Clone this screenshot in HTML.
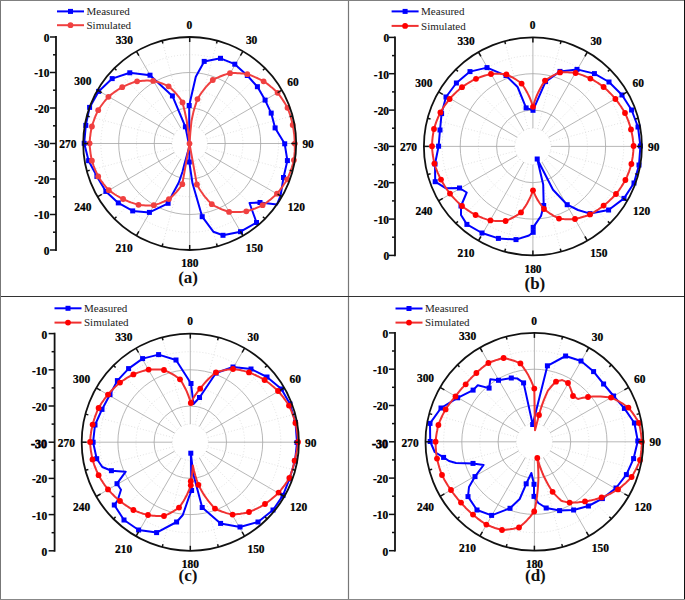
<!DOCTYPE html><html><head><meta charset="utf-8"><style>html,body{margin:0;padding:0;background:#fff;}svg{display:block;}.n{font-family:"Liberation Serif",serif;font-weight:bold;font-size:12px;fill:#000;stroke:#000;stroke-width:0.25px;}.lg{font-family:"Liberation Serif",serif;font-size:11px;fill:#222;}.pl{font-family:"Liberation Serif",serif;font-weight:bold;font-size:17px;fill:#111;}</style></head><body>
<svg width="685" height="600" viewBox="0 0 685 600">
<rect width="685" height="600" fill="#fff"/>
<g><circle cx="189.7" cy="143.5" r="17.8" fill="none" stroke="#dadada" stroke-width="0.8" stroke-dasharray="1 2"/><circle cx="189.7" cy="143.5" r="53.2" fill="none" stroke="#dadada" stroke-width="0.8" stroke-dasharray="1 2"/><circle cx="189.7" cy="143.5" r="88.8" fill="none" stroke="#dadada" stroke-width="0.8" stroke-dasharray="1 2"/><circle cx="189.7" cy="143.5" r="35.5" fill="none" stroke="#a4a4a4" stroke-width="0.8"/><circle cx="189.7" cy="143.5" r="71" fill="none" stroke="#a4a4a4" stroke-width="0.8"/><line x1="189.7" y1="125.8" x2="189.7" y2="37" stroke="#a4a4a4" stroke-width="0.8"/><line x1="194.3" y1="126.4" x2="217.3" y2="40.6" stroke="#dadada" stroke-width="0.8" stroke-dasharray="1 2"/><line x1="198.6" y1="128.1" x2="242.9" y2="51.3" stroke="#a4a4a4" stroke-width="0.8"/><line x1="202.3" y1="130.9" x2="265" y2="68.2" stroke="#dadada" stroke-width="0.8" stroke-dasharray="1 2"/><line x1="205.1" y1="134.6" x2="281.9" y2="90.2" stroke="#a4a4a4" stroke-width="0.8"/><line x1="206.8" y1="138.9" x2="292.6" y2="115.9" stroke="#dadada" stroke-width="0.8" stroke-dasharray="1 2"/><line x1="207.4" y1="143.5" x2="296.2" y2="143.5" stroke="#a4a4a4" stroke-width="0.8"/><line x1="206.8" y1="148.1" x2="292.6" y2="171.1" stroke="#dadada" stroke-width="0.8" stroke-dasharray="1 2"/><line x1="205.1" y1="152.4" x2="281.9" y2="196.7" stroke="#a4a4a4" stroke-width="0.8"/><line x1="202.3" y1="156.1" x2="265" y2="218.8" stroke="#dadada" stroke-width="0.8" stroke-dasharray="1 2"/><line x1="198.6" y1="158.9" x2="242.9" y2="235.7" stroke="#a4a4a4" stroke-width="0.8"/><line x1="194.3" y1="160.6" x2="217.3" y2="246.4" stroke="#dadada" stroke-width="0.8" stroke-dasharray="1 2"/><line x1="189.7" y1="161.2" x2="189.7" y2="250" stroke="#a4a4a4" stroke-width="0.8"/><line x1="185.1" y1="160.6" x2="162.1" y2="246.4" stroke="#dadada" stroke-width="0.8" stroke-dasharray="1 2"/><line x1="180.8" y1="158.9" x2="136.4" y2="235.7" stroke="#a4a4a4" stroke-width="0.8"/><line x1="177.1" y1="156.1" x2="114.4" y2="218.8" stroke="#dadada" stroke-width="0.8" stroke-dasharray="1 2"/><line x1="174.3" y1="152.4" x2="97.5" y2="196.8" stroke="#a4a4a4" stroke-width="0.8"/><line x1="172.6" y1="148.1" x2="86.8" y2="171.1" stroke="#dadada" stroke-width="0.8" stroke-dasharray="1 2"/><line x1="171.9" y1="143.5" x2="83.2" y2="143.5" stroke="#a4a4a4" stroke-width="0.8"/><line x1="172.6" y1="138.9" x2="86.8" y2="115.9" stroke="#dadada" stroke-width="0.8" stroke-dasharray="1 2"/><line x1="174.3" y1="134.6" x2="97.5" y2="90.2" stroke="#a4a4a4" stroke-width="0.8"/><line x1="177.1" y1="130.9" x2="114.4" y2="68.2" stroke="#dadada" stroke-width="0.8" stroke-dasharray="1 2"/><line x1="180.8" y1="128.1" x2="136.4" y2="51.3" stroke="#a4a4a4" stroke-width="0.8"/><line x1="185.1" y1="126.4" x2="162.1" y2="40.6" stroke="#dadada" stroke-width="0.8" stroke-dasharray="1 2"/><path d="M189.2 105.5 L195.8 76.7 L204.2 61.4 L220.5 58.3 L234.8 64.2 L247.3 75.5 L257.4 86.7 L265.1 100.1 L271.2 113.1 L275.1 127.9 L284.7 143.8 L287.4 160.6 L283.5 177.5 L280.5 196 L277 204.5 L260 202.5 L249.5 203 L256.5 222.5 L240.5 231.7 L223 235.3 L213.3 231.7 L202.2 216.7 L192.5 183.3 L189.3 162 L189.5 146 L184.2 165 L182.5 171.7 L178.8 182.5 L172.5 194.2 L168.1 203.3 L149.4 212.4 L132.7 210.9 L118.3 202.9 L105.9 191.4 L96.9 176.4 L88.6 160.7 L84.2 143.3 L85.8 125.4 L89.6 107.4 L98.6 91.4 L112.2 78.6 L129.8 72.8 L150 75.2 L172.4 95.9 L185.4 126.8 L189.3 146 L189.2 105.5" fill="none" stroke="#0000ff" stroke-width="2" stroke-linejoin="round"/><rect x="186.7" y="103" width="5" height="5" fill="#0000ff"/><rect x="201.7" y="58.9" width="5" height="5" fill="#0000ff"/><rect x="218" y="55.8" width="5" height="5" fill="#0000ff"/><rect x="232.3" y="61.7" width="5" height="5" fill="#0000ff"/><rect x="244.8" y="73" width="5" height="5" fill="#0000ff"/><rect x="254.9" y="84.2" width="5" height="5" fill="#0000ff"/><rect x="262.6" y="97.6" width="5" height="5" fill="#0000ff"/><rect x="268.7" y="110.6" width="5" height="5" fill="#0000ff"/><rect x="272.6" y="125.4" width="5" height="5" fill="#0000ff"/><rect x="282.2" y="141.3" width="5" height="5" fill="#0000ff"/><rect x="284.9" y="158.1" width="5" height="5" fill="#0000ff"/><rect x="281" y="175" width="5" height="5" fill="#0000ff"/><rect x="257.5" y="200" width="5" height="5" fill="#0000ff"/><rect x="254" y="220" width="5" height="5" fill="#0000ff"/><rect x="238" y="229.2" width="5" height="5" fill="#0000ff"/><rect x="220.5" y="232.8" width="5" height="5" fill="#0000ff"/><rect x="199.7" y="214.2" width="5" height="5" fill="#0000ff"/><rect x="186.8" y="159.5" width="5" height="5" fill="#0000ff"/><rect x="165.6" y="200.8" width="5" height="5" fill="#0000ff"/><rect x="146.9" y="209.9" width="5" height="5" fill="#0000ff"/><rect x="130.2" y="208.4" width="5" height="5" fill="#0000ff"/><rect x="115.8" y="200.4" width="5" height="5" fill="#0000ff"/><rect x="103.4" y="188.9" width="5" height="5" fill="#0000ff"/><rect x="94.4" y="173.9" width="5" height="5" fill="#0000ff"/><rect x="86.1" y="158.2" width="5" height="5" fill="#0000ff"/><rect x="81.7" y="140.8" width="5" height="5" fill="#0000ff"/><rect x="83.3" y="122.9" width="5" height="5" fill="#0000ff"/><rect x="87.1" y="104.9" width="5" height="5" fill="#0000ff"/><rect x="96.1" y="88.9" width="5" height="5" fill="#0000ff"/><rect x="109.7" y="76.1" width="5" height="5" fill="#0000ff"/><rect x="127.3" y="70.3" width="5" height="5" fill="#0000ff"/><rect x="147.5" y="72.7" width="5" height="5" fill="#0000ff"/><rect x="169.9" y="93.4" width="5" height="5" fill="#0000ff"/><rect x="182.9" y="124.3" width="5" height="5" fill="#0000ff"/><path d="M189.5 143.6 L190.3 133 L191.5 121 L192.4 116.6 L193.4 112.1 L194.6 107.8 L196 103.4 L197.5 99.1 L198.7 97 L200 95 L201.3 93 L202.8 91 L204.3 89.1 L205.8 87.2 L207.5 85.3 L209.2 83.5 L211 81.7 L212.8 80 L214.5 79.1 L216.3 78.2 L218.2 77.3 L220 76.5 L222 75.7 L223.9 75 L225.9 74.4 L227.9 73.8 L230 73.2 L231.9 73.1 L233.7 73.1 L235.6 73.1 L237.5 73.2 L239.5 73.3 L241.4 73.4 L243.4 73.6 L245.3 73.9 L247.3 74.2 L248.9 74.7 L250.6 75.3 L252.2 75.9 L253.9 76.6 L255.5 77.3 L257.1 78 L258.8 78.8 L260.4 79.6 L262 80.4 L263.6 81.3 L265.1 82.3 L266.5 83.3 L268 84.4 L269.4 85.5 L270.8 86.7 L272.2 87.8 L273.6 89 L274.9 90.2 L276.3 91.5 L277.6 92.8 L278.8 94.4 L280 95.9 L281.2 97.6 L282.3 99.2 L283.4 100.9 L284.5 102.6 L285.5 104.3 L286.5 106 L287.5 107.8 L288.2 109.7 L288.9 111.5 L289.6 113.4 L290.2 115.3 L290.8 117.2 L291.3 119.2 L291.8 121.1 L292.3 123 L292.7 125 L293.1 126.8 L293.4 128.7 L293.7 130.5 L293.9 132.4 L294.2 134.2 L294.4 136.1 L294.5 138 L294.6 139.8 L294.7 141.7 L294.8 143.6 L294.8 145.7 L294.8 147.7 L294.8 149.8 L294.7 151.9 L294.5 153.9 L294.4 156 L294.2 158 L293.9 160.1 L293.4 161.9 L293 163.7 L292.4 165.5 L291.9 167.3 L291.3 169 L290.7 170.8 L290.1 172.5 L289.4 174.2 L288.7 175.9 L288 177.6 L287.2 179.3 L286.2 181 L285.1 182.7 L284 184.3 L282.9 186 L281.8 187.6 L280.6 189.1 L279.5 190.7 L278.2 192.2 L277 193.7 L275.6 195 L274.2 196.3 L272.8 197.5 L271.4 198.7 L270 199.9 L268.5 201 L267.1 202.1 L265.6 203.2 L264.1 204.2 L262.6 205.2 L260.8 206.1 L259 206.9 L257.2 207.6 L255.4 208.4 L253.6 209 L251.7 209.7 L249.9 210.3 L248.1 210.8 L246.3 211.3 L244.3 211.6 L242.4 211.8 L240.4 211.9 L238.5 212.1 L236.6 212.1 L234.7 212.1 L232.8 212.1 L230.9 212 L229.1 211.9 L227 211.3 L225 210.5 L222.9 209.8 L221 209 L219 208.1 L217.2 207.2 L215.3 206.3 L213.5 205.2 L211.8 204.2 L210 202.4 L208.2 200.6 L206.6 198.7 L205 196.8 L203.4 194.8 L202 192.8 L200.6 190.8 L199.3 188.7 L198.1 186.6 L196.9 184.5 L189.5 143.6 L182.3 184.2 L181.2 185.8 L180.1 187.4 L178.9 189 L177.6 190.5 L176.3 192.1 L174.9 193.5 L173.5 195 L172 196.4 L170.5 197.8 L168.9 199.1 L167.4 199.9 L165.8 200.7 L164.2 201.5 L162.5 202.2 L160.9 202.9 L159.1 203.6 L157.4 204.1 L155.6 204.7 L153.8 205.2 L152.2 205.3 L150.5 205.4 L148.8 205.4 L147.1 205.4 L145.4 205.4 L143.7 205.3 L142 205.2 L140.3 205 L138.5 204.8 L137 204.4 L135.4 203.9 L133.9 203.4 L132.3 202.9 L130.8 202.4 L129.2 201.8 L127.7 201.1 L126.2 200.5 L124.6 199.7 L123.1 199 L121.5 198.2 L119.9 197.3 L118.2 196.4 L116.6 195.5 L115 194.5 L113.5 193.5 L111.9 192.4 L110.3 191.3 L108.8 190.2 L107.6 188.9 L106.5 187.6 L105.4 186.3 L104.3 185 L103.2 183.6 L102.2 182.2 L101.1 180.8 L100.1 179.4 L99.2 177.9 L98.2 176.4 L97.4 174.7 L96.6 173 L95.8 171.3 L95.1 169.6 L94.4 167.9 L93.7 166.1 L93.1 164.3 L92.5 162.5 L91.9 160.7 L91.5 159 L91.2 157.3 L90.9 155.5 L90.6 153.8 L90.4 152.1 L90.2 150.3 L90 148.6 L89.8 146.8 L89.7 145.1 L89.6 143.3 L89.7 141.4 L89.9 139.5 L90 137.6 L90.3 135.8 L90.5 133.9 L90.8 132 L91.1 130.2 L91.5 128.3 L91.9 126.5 L92.4 124.8 L92.9 123.1 L93.5 121.5 L94.1 119.8 L94.7 118.2 L95.3 116.5 L96 114.9 L96.7 113.3 L97.4 111.8 L98.2 110.2 L99.2 108.6 L100.3 107 L101.4 105.5 L102.5 104 L103.6 102.5 L104.8 101 L106 99.6 L107.2 98.2 L108.4 96.8 L109.9 95.6 L111.4 94.4 L112.9 93.2 L114.4 92.1 L115.9 91.1 L117.5 90 L119 89.1 L120.6 88.1 L122.2 87.2 L123.8 86.4 L125.5 85.6 L127.1 84.9 L128.8 84.2 L130.5 83.5 L132.1 82.9 L133.8 82.3 L135.4 81.8 L137.1 81.3 L138.9 81.1 L140.8 80.9 L142.6 80.8 L144.4 80.7 L146.2 80.6 L148 80.6 L149.7 80.7 L151.5 80.8 L153.2 80.9 L155 81.3 L156.9 81.8 L158.6 82.3 L160.4 82.9 L162.1 83.5 L163.8 84.1 L165.4 84.8 L167 85.5 L168.6 86.3 L170.3 87.7 L171.9 89.2 L173.4 90.8 L174.9 92.3 L176.3 93.9 L177.7 95.6 L179 97.2 L180.2 98.9 L181.4 100.6 L182.5 102.4 L184.7 111.2 L186.6 120 L188.2 131 L189.5 143.6" fill="none" stroke="#f04040" stroke-width="2" stroke-linejoin="round"/><circle cx="189.5" cy="143.6" r="2.9" fill="#f04040"/><circle cx="197.5" cy="99.1" r="2.9" fill="#f04040"/><circle cx="212.8" cy="80" r="2.9" fill="#f04040"/><circle cx="230" cy="73.2" r="2.9" fill="#f04040"/><circle cx="247.3" cy="74.2" r="2.9" fill="#f04040"/><circle cx="263.6" cy="81.3" r="2.9" fill="#f04040"/><circle cx="277.6" cy="92.8" r="2.9" fill="#f04040"/><circle cx="287.5" cy="107.8" r="2.9" fill="#f04040"/><circle cx="292.7" cy="125" r="2.9" fill="#f04040"/><circle cx="294.8" cy="143.6" r="2.9" fill="#f04040"/><circle cx="293.9" cy="160.1" r="2.9" fill="#f04040"/><circle cx="287.2" cy="179.3" r="2.9" fill="#f04040"/><circle cx="277" cy="193.7" r="2.9" fill="#f04040"/><circle cx="262.6" cy="205.2" r="2.9" fill="#f04040"/><circle cx="246.3" cy="211.3" r="2.9" fill="#f04040"/><circle cx="229.1" cy="211.9" r="2.9" fill="#f04040"/><circle cx="211.8" cy="204.2" r="2.9" fill="#f04040"/><circle cx="196.9" cy="184.5" r="2.9" fill="#f04040"/><circle cx="182.3" cy="184.2" r="2.9" fill="#f04040"/><circle cx="168.9" cy="199.1" r="2.9" fill="#f04040"/><circle cx="153.8" cy="205.2" r="2.9" fill="#f04040"/><circle cx="138.5" cy="204.8" r="2.9" fill="#f04040"/><circle cx="123.1" cy="199" r="2.9" fill="#f04040"/><circle cx="108.8" cy="190.2" r="2.9" fill="#f04040"/><circle cx="98.2" cy="176.4" r="2.9" fill="#f04040"/><circle cx="91.9" cy="160.7" r="2.9" fill="#f04040"/><circle cx="89.6" cy="143.3" r="2.9" fill="#f04040"/><circle cx="91.9" cy="126.5" r="2.9" fill="#f04040"/><circle cx="98.2" cy="110.2" r="2.9" fill="#f04040"/><circle cx="108.4" cy="96.8" r="2.9" fill="#f04040"/><circle cx="122.2" cy="87.2" r="2.9" fill="#f04040"/><circle cx="137.1" cy="81.3" r="2.9" fill="#f04040"/><circle cx="153.2" cy="80.9" r="2.9" fill="#f04040"/><circle cx="168.6" cy="86.3" r="2.9" fill="#f04040"/><circle cx="182.5" cy="102.4" r="2.9" fill="#f04040"/><circle cx="189.7" cy="143.5" r="106.5" fill="none" stroke="#111" stroke-width="1.8"/><line x1="189.7" y1="37" x2="189.7" y2="42" stroke="#111" stroke-width="1.5"/><line x1="217.3" y1="40.6" x2="216.5" y2="43.5" stroke="#111" stroke-width="1.5"/><line x1="242.9" y1="51.3" x2="240.4" y2="55.6" stroke="#111" stroke-width="1.5"/><line x1="265" y1="68.2" x2="262.9" y2="70.3" stroke="#111" stroke-width="1.5"/><line x1="281.9" y1="90.2" x2="277.6" y2="92.7" stroke="#111" stroke-width="1.5"/><line x1="292.6" y1="115.9" x2="289.7" y2="116.7" stroke="#111" stroke-width="1.5"/><line x1="296.2" y1="143.5" x2="291.2" y2="143.5" stroke="#111" stroke-width="1.5"/><line x1="292.6" y1="171.1" x2="289.7" y2="170.3" stroke="#111" stroke-width="1.5"/><line x1="281.9" y1="196.7" x2="277.6" y2="194.2" stroke="#111" stroke-width="1.5"/><line x1="265" y1="218.8" x2="262.9" y2="216.7" stroke="#111" stroke-width="1.5"/><line x1="242.9" y1="235.7" x2="240.4" y2="231.4" stroke="#111" stroke-width="1.5"/><line x1="217.3" y1="246.4" x2="216.5" y2="243.5" stroke="#111" stroke-width="1.5"/><line x1="189.7" y1="250" x2="189.7" y2="245" stroke="#111" stroke-width="1.5"/><line x1="162.1" y1="246.4" x2="162.9" y2="243.5" stroke="#111" stroke-width="1.5"/><line x1="136.4" y1="235.7" x2="138.9" y2="231.4" stroke="#111" stroke-width="1.5"/><line x1="114.4" y1="218.8" x2="116.5" y2="216.7" stroke="#111" stroke-width="1.5"/><line x1="97.5" y1="196.8" x2="101.8" y2="194.3" stroke="#111" stroke-width="1.5"/><line x1="86.8" y1="171.1" x2="89.7" y2="170.3" stroke="#111" stroke-width="1.5"/><line x1="83.2" y1="143.5" x2="88.2" y2="143.5" stroke="#111" stroke-width="1.5"/><line x1="86.8" y1="115.9" x2="89.7" y2="116.7" stroke="#111" stroke-width="1.5"/><line x1="97.5" y1="90.2" x2="101.8" y2="92.7" stroke="#111" stroke-width="1.5"/><line x1="114.4" y1="68.2" x2="116.5" y2="70.3" stroke="#111" stroke-width="1.5"/><line x1="136.4" y1="51.3" x2="138.9" y2="55.6" stroke="#111" stroke-width="1.5"/><line x1="162.1" y1="40.6" x2="162.9" y2="43.5" stroke="#111" stroke-width="1.5"/><text class="n" transform="translate(189.4 28.6) scale(0.955 1)" text-anchor="middle">0</text><text class="n" transform="translate(251.6 44.3) scale(0.955 1)" text-anchor="middle">30</text><text class="n" transform="translate(292.9 85.5) scale(0.955 1)" text-anchor="middle">60</text><text class="n" transform="translate(308.1 148) scale(0.955 1)" text-anchor="middle">90</text><text class="n" transform="translate(296.3 211.2) scale(0.955 1)" text-anchor="middle">120</text><text class="n" transform="translate(254.3 252.1) scale(0.955 1)" text-anchor="middle">150</text><text class="n" transform="translate(189.8 267.2) scale(0.955 1)" text-anchor="middle">180</text><text class="n" transform="translate(124.1 252.1) scale(0.955 1)" text-anchor="middle">210</text><text class="n" transform="translate(82.9 211.2) scale(0.955 1)" text-anchor="middle">240</text><text class="n" transform="translate(67.8 148.2) scale(0.955 1)" text-anchor="middle">270</text><text class="n" transform="translate(82.9 85.3) scale(0.955 1)" text-anchor="middle">300</text><text class="n" transform="translate(124.3 44) scale(0.955 1)" text-anchor="middle">330</text><line x1="56" y1="36.1" x2="56" y2="250.9" stroke="#111" stroke-width="1.8"/><line x1="50" y1="37" x2="56" y2="37" stroke="#111" stroke-width="1.5"/><text class="n" transform="translate(49.5 41.9) scale(0.955 1)" text-anchor="end">0</text><line x1="53" y1="54.8" x2="56" y2="54.8" stroke="#111" stroke-width="1.5"/><line x1="50" y1="72.5" x2="56" y2="72.5" stroke="#111" stroke-width="1.5"/><text class="n" transform="translate(49.5 77.3) scale(0.955 1)" text-anchor="end">-10</text><line x1="53" y1="90.2" x2="56" y2="90.2" stroke="#111" stroke-width="1.5"/><line x1="50" y1="108" x2="56" y2="108" stroke="#111" stroke-width="1.5"/><text class="n" transform="translate(49.5 112.8) scale(0.955 1)" text-anchor="end">-20</text><line x1="53" y1="125.8" x2="56" y2="125.8" stroke="#111" stroke-width="1.5"/><line x1="50" y1="143.5" x2="56" y2="143.5" stroke="#111" stroke-width="1.5"/><text class="n" transform="translate(49.5 148.3) scale(0.955 1)" text-anchor="end">-30</text><line x1="53" y1="161.2" x2="56" y2="161.2" stroke="#111" stroke-width="1.5"/><line x1="50" y1="179" x2="56" y2="179" stroke="#111" stroke-width="1.5"/><text class="n" transform="translate(49.5 183.8) scale(0.955 1)" text-anchor="end">-20</text><line x1="53" y1="196.8" x2="56" y2="196.8" stroke="#111" stroke-width="1.5"/><line x1="50" y1="214.5" x2="56" y2="214.5" stroke="#111" stroke-width="1.5"/><text class="n" transform="translate(49.5 219.3) scale(0.955 1)" text-anchor="end">-10</text><line x1="53" y1="232.2" x2="56" y2="232.2" stroke="#111" stroke-width="1.5"/><line x1="50" y1="250" x2="56" y2="250" stroke="#111" stroke-width="1.5"/><text class="n" transform="translate(49.5 254.8) scale(0.955 1)" text-anchor="end">0</text><line x1="57" y1="11.4" x2="84" y2="11.4" stroke="#0000ff" stroke-width="2"/><rect x="68" y="8.9" width="5" height="5" fill="#0000ff"/><text class="lg" x="86.5" y="15.2">Measured</text><line x1="57" y1="25.2" x2="84" y2="25.2" stroke="#f04040" stroke-width="2"/><circle cx="70.5" cy="25.2" r="2.9" fill="#f04040"/><text class="lg" x="86.5" y="29">Simulated</text><text class="pl" x="188.1" y="283.3" text-anchor="middle">(a)</text></g>
<g><circle cx="532.9" cy="146.4" r="18.2" fill="none" stroke="#dadada" stroke-width="0.8" stroke-dasharray="1 2"/><circle cx="532.9" cy="146.4" r="54.5" fill="none" stroke="#dadada" stroke-width="0.8" stroke-dasharray="1 2"/><circle cx="532.9" cy="146.4" r="90.8" fill="none" stroke="#dadada" stroke-width="0.8" stroke-dasharray="1 2"/><circle cx="532.9" cy="146.4" r="36.3" fill="none" stroke="#a4a4a4" stroke-width="0.8"/><circle cx="532.9" cy="146.4" r="72.7" fill="none" stroke="#a4a4a4" stroke-width="0.8"/><line x1="532.9" y1="128.2" x2="532.9" y2="37.4" stroke="#a4a4a4" stroke-width="0.8"/><line x1="537.6" y1="128.9" x2="561.1" y2="41.1" stroke="#dadada" stroke-width="0.8" stroke-dasharray="1 2"/><line x1="542" y1="130.7" x2="587.4" y2="52" stroke="#a4a4a4" stroke-width="0.8"/><line x1="545.7" y1="133.6" x2="610" y2="69.3" stroke="#dadada" stroke-width="0.8" stroke-dasharray="1 2"/><line x1="548.6" y1="137.3" x2="627.3" y2="91.9" stroke="#a4a4a4" stroke-width="0.8"/><line x1="550.4" y1="141.7" x2="638.2" y2="118.2" stroke="#dadada" stroke-width="0.8" stroke-dasharray="1 2"/><line x1="551.1" y1="146.4" x2="641.9" y2="146.4" stroke="#a4a4a4" stroke-width="0.8"/><line x1="550.4" y1="151.1" x2="638.2" y2="174.6" stroke="#dadada" stroke-width="0.8" stroke-dasharray="1 2"/><line x1="548.6" y1="155.5" x2="627.3" y2="200.9" stroke="#a4a4a4" stroke-width="0.8"/><line x1="545.7" y1="159.2" x2="610" y2="223.5" stroke="#dadada" stroke-width="0.8" stroke-dasharray="1 2"/><line x1="542" y1="162.1" x2="587.4" y2="240.8" stroke="#a4a4a4" stroke-width="0.8"/><line x1="537.6" y1="163.9" x2="561.1" y2="251.7" stroke="#dadada" stroke-width="0.8" stroke-dasharray="1 2"/><line x1="532.9" y1="164.6" x2="532.9" y2="255.4" stroke="#a4a4a4" stroke-width="0.8"/><line x1="528.2" y1="163.9" x2="504.7" y2="251.7" stroke="#dadada" stroke-width="0.8" stroke-dasharray="1 2"/><line x1="523.8" y1="162.1" x2="478.4" y2="240.8" stroke="#a4a4a4" stroke-width="0.8"/><line x1="520.1" y1="159.2" x2="455.8" y2="223.5" stroke="#dadada" stroke-width="0.8" stroke-dasharray="1 2"/><line x1="517.2" y1="155.5" x2="438.5" y2="200.9" stroke="#a4a4a4" stroke-width="0.8"/><line x1="515.4" y1="151.1" x2="427.6" y2="174.6" stroke="#dadada" stroke-width="0.8" stroke-dasharray="1 2"/><line x1="514.7" y1="146.4" x2="423.9" y2="146.4" stroke="#a4a4a4" stroke-width="0.8"/><line x1="515.4" y1="141.7" x2="427.6" y2="118.2" stroke="#dadada" stroke-width="0.8" stroke-dasharray="1 2"/><line x1="517.2" y1="137.3" x2="438.5" y2="91.9" stroke="#a4a4a4" stroke-width="0.8"/><line x1="520.1" y1="133.6" x2="455.8" y2="69.3" stroke="#dadada" stroke-width="0.8" stroke-dasharray="1 2"/><line x1="523.8" y1="130.7" x2="478.4" y2="52" stroke="#a4a4a4" stroke-width="0.8"/><line x1="528.2" y1="128.9" x2="504.7" y2="41.1" stroke="#dadada" stroke-width="0.8" stroke-dasharray="1 2"/><path d="M533 110.3 L545.6 81.6 L560 71.4 L577 69.4 L594.4 73.6 L609 82 L622 95 L631.6 110 L638 127 L640.4 146 L639 165 L634 183 L624 198.4 L608.6 210 L590 213.6 L578 210 L567.2 204.7 L553 189.7 L537.2 159 L543.2 184.5 L543.7 205.5 L541 216 L533.2 227.4 L533.2 232.3 L529 235.5 L516 239.6 L498.4 238.4 L482 233 L466.9 224.4 L461 215 L461 206 L466.7 192.5 L459.5 188 L446 188.3 L435.2 181.7 L435 164 L438.6 146.2 L440 130 L441.6 113.6 L446 97 L456.4 83 L470 71.6 L487 67.6 L506 75.6 L517.6 87 L526.1 107.9 L533 110.3" fill="none" stroke="#0000ff" stroke-width="2" stroke-linejoin="round"/><rect x="530.5" y="107.8" width="5" height="5" fill="#0000ff"/><rect x="543.1" y="79.1" width="5" height="5" fill="#0000ff"/><rect x="557.5" y="68.9" width="5" height="5" fill="#0000ff"/><rect x="574.5" y="66.9" width="5" height="5" fill="#0000ff"/><rect x="591.9" y="71.1" width="5" height="5" fill="#0000ff"/><rect x="606.5" y="79.5" width="5" height="5" fill="#0000ff"/><rect x="619.5" y="92.5" width="5" height="5" fill="#0000ff"/><rect x="629.1" y="107.5" width="5" height="5" fill="#0000ff"/><rect x="635.5" y="124.5" width="5" height="5" fill="#0000ff"/><rect x="637.9" y="143.5" width="5" height="5" fill="#0000ff"/><rect x="636.5" y="162.5" width="5" height="5" fill="#0000ff"/><rect x="631.5" y="180.5" width="5" height="5" fill="#0000ff"/><rect x="621.5" y="195.9" width="5" height="5" fill="#0000ff"/><rect x="606.1" y="207.5" width="5" height="5" fill="#0000ff"/><rect x="587.5" y="211.1" width="5" height="5" fill="#0000ff"/><rect x="564.7" y="202.2" width="5" height="5" fill="#0000ff"/><rect x="534.7" y="156.5" width="5" height="5" fill="#0000ff"/><rect x="541.2" y="203" width="5" height="5" fill="#0000ff"/><rect x="530.7" y="224.9" width="5" height="5" fill="#0000ff"/><rect x="530.7" y="229.8" width="5" height="5" fill="#0000ff"/><rect x="513.5" y="237.1" width="5" height="5" fill="#0000ff"/><rect x="495.9" y="235.9" width="5" height="5" fill="#0000ff"/><rect x="479.5" y="230.5" width="5" height="5" fill="#0000ff"/><rect x="464.4" y="221.9" width="5" height="5" fill="#0000ff"/><rect x="458.5" y="203.5" width="5" height="5" fill="#0000ff"/><rect x="457" y="185.5" width="5" height="5" fill="#0000ff"/><rect x="432.7" y="179.2" width="5" height="5" fill="#0000ff"/><rect x="432.5" y="161.5" width="5" height="5" fill="#0000ff"/><rect x="436.1" y="143.7" width="5" height="5" fill="#0000ff"/><rect x="437.5" y="127.5" width="5" height="5" fill="#0000ff"/><rect x="439.1" y="111.1" width="5" height="5" fill="#0000ff"/><rect x="443.5" y="94.5" width="5" height="5" fill="#0000ff"/><rect x="453.9" y="80.5" width="5" height="5" fill="#0000ff"/><rect x="467.5" y="69.1" width="5" height="5" fill="#0000ff"/><rect x="484.5" y="65.1" width="5" height="5" fill="#0000ff"/><rect x="503.5" y="73.1" width="5" height="5" fill="#0000ff"/><rect x="523.6" y="105.4" width="5" height="5" fill="#0000ff"/><path d="M533 106.8 L533.8 104.1 L534.6 101.4 L535.6 98.7 L536.6 96 L537.8 93.4 L539.1 90.8 L540.4 88.2 L541.8 85.6 L543.4 83.1 L545 80.6 L546.5 79.5 L548 78.5 L549.6 77.5 L551.3 76.6 L552.9 75.7 L554.6 74.8 L556.4 73.9 L558.2 73.2 L560 72.4 L561.5 72.3 L563 72.3 L564.6 72.2 L566.1 72.3 L567.7 72.3 L569.3 72.4 L570.8 72.5 L572.4 72.6 L574 72.8 L575.6 73 L577.1 73.4 L578.6 73.9 L580.1 74.4 L581.6 74.9 L583.1 75.4 L584.5 76 L586 76.6 L587.5 77.2 L588.9 77.9 L590.4 78.6 L591.9 79.4 L593.4 80.2 L594.9 81.1 L596.4 82 L597.9 82.9 L599.3 83.9 L600.8 84.9 L602.2 85.9 L603.6 87 L604.9 88.1 L606.1 89.2 L607.3 90.3 L608.5 91.5 L609.7 92.7 L610.9 93.9 L612.1 95.1 L613.2 96.4 L614.3 97.7 L615.4 99 L616.6 100.4 L617.7 101.9 L618.8 103.4 L619.9 105 L621 106.5 L622 108.1 L623.1 109.7 L624 111.3 L625 113 L625.7 114.6 L626.4 116.2 L627.1 117.8 L627.7 119.4 L628.4 121 L628.9 122.7 L629.5 124.3 L630 126 L630.5 127.7 L631 129.4 L631.4 131.2 L631.8 133 L632.2 134.9 L632.5 136.7 L632.8 138.5 L633 140.4 L633.3 142.3 L633.4 144.1 L633.6 146 L633.5 147.8 L633.4 149.6 L633.3 151.4 L633.1 153.3 L632.9 155.1 L632.7 156.9 L632.4 158.7 L632.1 160.4 L631.8 162.2 L631.4 164 L630.9 165.8 L630.3 167.7 L629.7 169.5 L629.1 171.3 L628.4 173.1 L627.7 174.8 L627 176.6 L626.2 178.3 L625.4 180 L624.5 181.7 L623.5 183.3 L622.5 184.9 L621.5 186.5 L620.5 188 L619.4 189.6 L618.3 191.1 L617.2 192.5 L616 194 L614.8 195.3 L613.7 196.5 L612.5 197.8 L611.2 199 L610 200.1 L608.8 201.3 L607.5 202.4 L606.2 203.5 L604.9 204.6 L603.6 205.6 L602.3 206.6 L601 207.6 L599.6 208.5 L598.3 209.5 L596.9 210.4 L595.6 211.2 L594.2 212.1 L592.8 212.9 L591.4 213.6 L590 214.4 L588.3 215.1 L586.7 215.7 L585 216.3 L583.3 216.8 L581.7 217.3 L580 217.8 L578.3 218.2 L576.7 218.6 L575 219 L573.3 219.1 L571.7 219.2 L570.1 219.2 L568.5 219.2 L566.8 219.2 L565.2 219.2 L563.7 219.1 L562.1 218.9 L560.5 218.8 L559 218.6 L557.1 217.7 L555.3 216.7 L553.6 215.8 L551.9 214.7 L550.2 213.7 L548.6 212.5 L547 211.4 L545.5 210.2 L544 209 L542.5 207 L541 205 L539.6 203 L538.3 201 L537.1 198.9 L535.9 196.8 L534.9 194.6 L533.9 192.5 L533 190.3 L532.2 192.6 L531.3 194.9 L530.3 197.2 L529.2 199.4 L528 201.7 L526.8 203.9 L525.5 206.1 L524 208.2 L522.6 210.3 L521 212.4 L519.5 213.5 L517.9 214.6 L516.3 215.6 L514.6 216.6 L512.9 217.6 L511.1 218.5 L509.3 219.4 L507.5 220.2 L505.6 221 L504 221.1 L502.3 221.1 L500.6 221.1 L498.9 221.1 L497.3 221 L495.6 220.9 L493.8 220.8 L492.1 220.6 L490.4 220.4 L488.9 220 L487.4 219.6 L485.9 219.1 L484.4 218.6 L483 218.1 L481.5 217.5 L480 216.9 L478.5 216.3 L477.1 215.7 L475.6 215 L474.2 214.2 L472.8 213.4 L471.4 212.6 L470 211.7 L468.7 210.8 L467.3 209.9 L466 209 L464.6 208 L463.3 207 L462 206 L460.7 204.9 L459.4 203.7 L458.2 202.6 L457 201.4 L455.8 200.1 L454.6 198.9 L453.4 197.6 L452.2 196.3 L451.1 195 L450 193.6 L448.9 192.1 L447.8 190.7 L446.8 189.1 L445.7 187.6 L444.7 186.1 L443.8 184.5 L442.8 182.9 L441.9 181.2 L441 179.6 L440.1 177.9 L439.3 176.2 L438.5 174.4 L437.7 172.7 L437 170.9 L436.3 169.1 L435.6 167.3 L435 165.5 L434.4 163.6 L434 161.9 L433.7 160.2 L433.4 158.4 L433.1 156.7 L432.8 155 L432.6 153.2 L432.4 151.5 L432.2 149.7 L432.1 148 L432 146.2 L432.1 144.3 L432.2 142.3 L432.3 140.4 L432.5 138.5 L432.7 136.6 L433 134.7 L433.3 132.8 L433.6 130.9 L434 129 L434.5 127.3 L435 125.6 L435.6 123.9 L436.2 122.2 L436.8 120.5 L437.5 118.9 L438.2 117.2 L438.9 115.6 L439.6 114 L440.4 112.4 L441.3 110.8 L442.3 109.3 L443.2 107.7 L444.2 106.2 L445.3 104.7 L446.3 103.3 L447.4 101.8 L448.5 100.4 L449.6 99 L450.8 97.7 L451.9 96.4 L453.1 95.2 L454.3 94 L455.6 92.8 L456.8 91.6 L458.1 90.5 L459.4 89.3 L460.7 88.3 L462 87.2 L463.4 86.2 L464.7 85.3 L466.1 84.4 L467.5 83.5 L468.9 82.6 L470.3 81.8 L471.7 81 L473.1 80.2 L474.6 79.5 L476 78.8 L477.5 78.2 L479 77.6 L480.5 77 L482 76.5 L483.5 76 L485 75.5 L486.5 75.1 L488 74.7 L489.5 74.3 L491 74 L492.8 73.9 L494.5 73.8 L496.3 73.8 L498 73.8 L499.7 73.8 L501.4 73.9 L503.1 74 L504.7 74.2 L506.4 74.4 L508.1 75.2 L509.7 76 L511.4 76.8 L512.9 77.7 L514.5 78.6 L516 79.5 L517.4 80.5 L518.9 81.5 L520.3 82.5 L521.6 83.6 L523.1 85.8 L524.6 88 L525.9 90.3 L527.2 92.6 L528.4 94.9 L529.5 97.2 L530.5 99.6 L531.4 102 L532.2 104.4 L533 106.8" fill="none" stroke="#f03030" stroke-width="2" stroke-linejoin="round"/><circle cx="533" cy="106.8" r="2.9" fill="#ff0000"/><circle cx="545" cy="80.6" r="2.9" fill="#ff0000"/><circle cx="560" cy="72.4" r="2.9" fill="#ff0000"/><circle cx="575.6" cy="73" r="2.9" fill="#ff0000"/><circle cx="590.4" cy="78.6" r="2.9" fill="#ff0000"/><circle cx="603.6" cy="87" r="2.9" fill="#ff0000"/><circle cx="615.4" cy="99" r="2.9" fill="#ff0000"/><circle cx="625" cy="113" r="2.9" fill="#ff0000"/><circle cx="631" cy="129.4" r="2.9" fill="#ff0000"/><circle cx="633.6" cy="146" r="2.9" fill="#ff0000"/><circle cx="631.4" cy="164" r="2.9" fill="#ff0000"/><circle cx="625.4" cy="180" r="2.9" fill="#ff0000"/><circle cx="616" cy="194" r="2.9" fill="#ff0000"/><circle cx="603.6" cy="205.6" r="2.9" fill="#ff0000"/><circle cx="590" cy="214.4" r="2.9" fill="#ff0000"/><circle cx="575" cy="219" r="2.9" fill="#ff0000"/><circle cx="559" cy="218.6" r="2.9" fill="#ff0000"/><circle cx="544" cy="209" r="2.9" fill="#ff0000"/><circle cx="533" cy="190.3" r="2.9" fill="#ff0000"/><circle cx="521" cy="212.4" r="2.9" fill="#ff0000"/><circle cx="505.6" cy="221" r="2.9" fill="#ff0000"/><circle cx="490.4" cy="220.4" r="2.9" fill="#ff0000"/><circle cx="475.6" cy="215" r="2.9" fill="#ff0000"/><circle cx="462" cy="206" r="2.9" fill="#ff0000"/><circle cx="450" cy="193.6" r="2.9" fill="#ff0000"/><circle cx="441" cy="179.6" r="2.9" fill="#ff0000"/><circle cx="434.4" cy="163.6" r="2.9" fill="#ff0000"/><circle cx="432" cy="146.2" r="2.9" fill="#ff0000"/><circle cx="434" cy="129" r="2.9" fill="#ff0000"/><circle cx="440.4" cy="112.4" r="2.9" fill="#ff0000"/><circle cx="449.6" cy="99" r="2.9" fill="#ff0000"/><circle cx="462" cy="87.2" r="2.9" fill="#ff0000"/><circle cx="476" cy="78.8" r="2.9" fill="#ff0000"/><circle cx="491" cy="74" r="2.9" fill="#ff0000"/><circle cx="506.4" cy="74.4" r="2.9" fill="#ff0000"/><circle cx="521.6" cy="83.6" r="2.9" fill="#ff0000"/><circle cx="532.9" cy="146.4" r="109" fill="none" stroke="#111" stroke-width="1.8"/><line x1="532.9" y1="37.4" x2="532.9" y2="42.4" stroke="#111" stroke-width="1.5"/><line x1="561.1" y1="41.1" x2="560.3" y2="44" stroke="#111" stroke-width="1.5"/><line x1="587.4" y1="52" x2="584.9" y2="56.3" stroke="#111" stroke-width="1.5"/><line x1="610" y1="69.3" x2="607.9" y2="71.4" stroke="#111" stroke-width="1.5"/><line x1="627.3" y1="91.9" x2="623" y2="94.4" stroke="#111" stroke-width="1.5"/><line x1="638.2" y1="118.2" x2="635.3" y2="119" stroke="#111" stroke-width="1.5"/><line x1="641.9" y1="146.4" x2="636.9" y2="146.4" stroke="#111" stroke-width="1.5"/><line x1="638.2" y1="174.6" x2="635.3" y2="173.8" stroke="#111" stroke-width="1.5"/><line x1="627.3" y1="200.9" x2="623" y2="198.4" stroke="#111" stroke-width="1.5"/><line x1="610" y1="223.5" x2="607.9" y2="221.4" stroke="#111" stroke-width="1.5"/><line x1="587.4" y1="240.8" x2="584.9" y2="236.5" stroke="#111" stroke-width="1.5"/><line x1="561.1" y1="251.7" x2="560.3" y2="248.8" stroke="#111" stroke-width="1.5"/><line x1="532.9" y1="255.4" x2="532.9" y2="250.4" stroke="#111" stroke-width="1.5"/><line x1="504.7" y1="251.7" x2="505.5" y2="248.8" stroke="#111" stroke-width="1.5"/><line x1="478.4" y1="240.8" x2="480.9" y2="236.5" stroke="#111" stroke-width="1.5"/><line x1="455.8" y1="223.5" x2="457.9" y2="221.4" stroke="#111" stroke-width="1.5"/><line x1="438.5" y1="200.9" x2="442.8" y2="198.4" stroke="#111" stroke-width="1.5"/><line x1="427.6" y1="174.6" x2="430.5" y2="173.8" stroke="#111" stroke-width="1.5"/><line x1="423.9" y1="146.4" x2="428.9" y2="146.4" stroke="#111" stroke-width="1.5"/><line x1="427.6" y1="118.2" x2="430.5" y2="119" stroke="#111" stroke-width="1.5"/><line x1="438.5" y1="91.9" x2="442.8" y2="94.4" stroke="#111" stroke-width="1.5"/><line x1="455.8" y1="69.3" x2="457.9" y2="71.4" stroke="#111" stroke-width="1.5"/><line x1="478.4" y1="52" x2="480.9" y2="56.3" stroke="#111" stroke-width="1.5"/><line x1="504.7" y1="41.1" x2="505.5" y2="44" stroke="#111" stroke-width="1.5"/><text class="n" transform="translate(532.6 29.1) scale(0.955 1)" text-anchor="middle">0</text><text class="n" transform="translate(596.1 45.1) scale(0.955 1)" text-anchor="middle">30</text><text class="n" transform="translate(638.2 87.1) scale(0.955 1)" text-anchor="middle">60</text><text class="n" transform="translate(653.8 150.9) scale(0.955 1)" text-anchor="middle">90</text><text class="n" transform="translate(641.6 215.3) scale(0.955 1)" text-anchor="middle">120</text><text class="n" transform="translate(598.8 257.1) scale(0.955 1)" text-anchor="middle">150</text><text class="n" transform="translate(533 272.5) scale(0.955 1)" text-anchor="middle">180</text><text class="n" transform="translate(466 257.1) scale(0.955 1)" text-anchor="middle">210</text><text class="n" transform="translate(424 215.3) scale(0.955 1)" text-anchor="middle">240</text><text class="n" transform="translate(408.5 151.1) scale(0.955 1)" text-anchor="middle">270</text><text class="n" transform="translate(423.9 87) scale(0.955 1)" text-anchor="middle">300</text><text class="n" transform="translate(466.2 44.8) scale(0.955 1)" text-anchor="middle">330</text><line x1="395" y1="36.5" x2="395" y2="256.3" stroke="#111" stroke-width="1.8"/><line x1="389" y1="37.4" x2="395" y2="37.4" stroke="#111" stroke-width="1.5"/><text class="n" transform="translate(389.1 42.3) scale(0.955 1)" text-anchor="end">0</text><line x1="392" y1="55.6" x2="395" y2="55.6" stroke="#111" stroke-width="1.5"/><line x1="389" y1="73.7" x2="395" y2="73.7" stroke="#111" stroke-width="1.5"/><text class="n" transform="translate(389.1 78.6) scale(0.955 1)" text-anchor="end">-10</text><line x1="392" y1="91.9" x2="395" y2="91.9" stroke="#111" stroke-width="1.5"/><line x1="389" y1="110.1" x2="395" y2="110.1" stroke="#111" stroke-width="1.5"/><text class="n" transform="translate(389.1 114.9) scale(0.955 1)" text-anchor="end">-20</text><line x1="392" y1="128.2" x2="395" y2="128.2" stroke="#111" stroke-width="1.5"/><line x1="389" y1="146.4" x2="395" y2="146.4" stroke="#111" stroke-width="1.5"/><text class="n" transform="translate(389.1 151.2) scale(0.955 1)" text-anchor="end">-30</text><line x1="392" y1="164.6" x2="395" y2="164.6" stroke="#111" stroke-width="1.5"/><line x1="389" y1="182.7" x2="395" y2="182.7" stroke="#111" stroke-width="1.5"/><text class="n" transform="translate(389.1 187.6) scale(0.955 1)" text-anchor="end">-20</text><line x1="392" y1="200.9" x2="395" y2="200.9" stroke="#111" stroke-width="1.5"/><line x1="389" y1="219.1" x2="395" y2="219.1" stroke="#111" stroke-width="1.5"/><text class="n" transform="translate(389.1 223.9) scale(0.955 1)" text-anchor="end">-10</text><line x1="392" y1="237.2" x2="395" y2="237.2" stroke="#111" stroke-width="1.5"/><line x1="389" y1="255.4" x2="395" y2="255.4" stroke="#111" stroke-width="1.5"/><text class="n" transform="translate(389.1 260.2) scale(0.955 1)" text-anchor="end">0</text><line x1="391.6" y1="11.4" x2="418.6" y2="11.4" stroke="#0000ff" stroke-width="2"/><rect x="402.6" y="8.9" width="5" height="5" fill="#0000ff"/><text class="lg" x="421.1" y="15.2">Measured</text><line x1="391.6" y1="25.9" x2="418.6" y2="25.9" stroke="#f03030" stroke-width="2"/><circle cx="405.1" cy="25.9" r="2.9" fill="#ff0000"/><text class="lg" x="421.1" y="29.7">Simulated</text><text class="pl" x="534.9" y="288.9" text-anchor="middle">(b)</text></g>
<g><circle cx="190.3" cy="442.2" r="18.1" fill="none" stroke="#dadada" stroke-width="0.8" stroke-dasharray="1 2"/><circle cx="190.3" cy="442.2" r="54.3" fill="none" stroke="#dadada" stroke-width="0.8" stroke-dasharray="1 2"/><circle cx="190.3" cy="442.2" r="90.5" fill="none" stroke="#dadada" stroke-width="0.8" stroke-dasharray="1 2"/><circle cx="190.3" cy="442.2" r="36.2" fill="none" stroke="#a4a4a4" stroke-width="0.8"/><circle cx="190.3" cy="442.2" r="72.4" fill="none" stroke="#a4a4a4" stroke-width="0.8"/><line x1="190.3" y1="424.1" x2="190.3" y2="333.6" stroke="#a4a4a4" stroke-width="0.8"/><line x1="195" y1="424.7" x2="218.4" y2="337.3" stroke="#dadada" stroke-width="0.8" stroke-dasharray="1 2"/><line x1="199.4" y1="426.5" x2="244.6" y2="348.1" stroke="#a4a4a4" stroke-width="0.8"/><line x1="203.1" y1="429.4" x2="267.1" y2="365.4" stroke="#dadada" stroke-width="0.8" stroke-dasharray="1 2"/><line x1="206" y1="433.1" x2="284.4" y2="387.9" stroke="#a4a4a4" stroke-width="0.8"/><line x1="207.8" y1="437.5" x2="295.2" y2="414.1" stroke="#dadada" stroke-width="0.8" stroke-dasharray="1 2"/><line x1="208.4" y1="442.2" x2="298.9" y2="442.2" stroke="#a4a4a4" stroke-width="0.8"/><line x1="207.8" y1="446.9" x2="295.2" y2="470.3" stroke="#dadada" stroke-width="0.8" stroke-dasharray="1 2"/><line x1="206" y1="451.2" x2="284.4" y2="496.5" stroke="#a4a4a4" stroke-width="0.8"/><line x1="203.1" y1="455" x2="267.1" y2="519" stroke="#dadada" stroke-width="0.8" stroke-dasharray="1 2"/><line x1="199.4" y1="457.9" x2="244.6" y2="536.3" stroke="#a4a4a4" stroke-width="0.8"/><line x1="195" y1="459.7" x2="218.4" y2="547.1" stroke="#dadada" stroke-width="0.8" stroke-dasharray="1 2"/><line x1="190.3" y1="460.3" x2="190.3" y2="550.8" stroke="#a4a4a4" stroke-width="0.8"/><line x1="185.6" y1="459.7" x2="162.2" y2="547.1" stroke="#dadada" stroke-width="0.8" stroke-dasharray="1 2"/><line x1="181.2" y1="457.9" x2="136" y2="536.3" stroke="#a4a4a4" stroke-width="0.8"/><line x1="177.5" y1="455" x2="113.5" y2="519" stroke="#dadada" stroke-width="0.8" stroke-dasharray="1 2"/><line x1="174.6" y1="451.2" x2="96.2" y2="496.5" stroke="#a4a4a4" stroke-width="0.8"/><line x1="172.8" y1="446.9" x2="85.4" y2="470.3" stroke="#dadada" stroke-width="0.8" stroke-dasharray="1 2"/><line x1="172.2" y1="442.2" x2="81.7" y2="442.2" stroke="#a4a4a4" stroke-width="0.8"/><line x1="172.8" y1="437.5" x2="85.4" y2="414.1" stroke="#dadada" stroke-width="0.8" stroke-dasharray="1 2"/><line x1="174.6" y1="433.1" x2="96.2" y2="387.9" stroke="#a4a4a4" stroke-width="0.8"/><line x1="177.5" y1="429.4" x2="113.5" y2="365.4" stroke="#dadada" stroke-width="0.8" stroke-dasharray="1 2"/><line x1="181.2" y1="426.5" x2="136" y2="348.1" stroke="#a4a4a4" stroke-width="0.8"/><line x1="185.6" y1="424.7" x2="162.2" y2="337.3" stroke="#dadada" stroke-width="0.8" stroke-dasharray="1 2"/><path d="M191 383.5 L193.5 404 L199.5 397.5 L216 373 L233 367 L251 369 L267 377 L281.4 389 L290 404 L295.5 422.5 L297 442.5 L295 461 L289.4 479 L283 495.4 L273 510 L258 522 L240 527 L220.6 523.4 L202.2 507.5 L193.3 474 L190.8 453.2 L191.6 490.5 L189 497 L182.8 515 L176.6 522 L156.6 532.6 L138.6 530 L124 520 L114.3 505 L117.7 500.3 L121 489.7 L117 483.7 L125.7 471.7 L111.4 470.7 L102.3 467 L96.7 458.7 L93.1 442.2 L95 425 L102 409.4 L110 394.6 L117.4 380.6 L128.6 368.6 L142.6 358.6 L158.6 354.6 L176 360 L191 383.5" fill="none" stroke="#0000ff" stroke-width="2" stroke-linejoin="round"/><rect x="188.5" y="381" width="5" height="5" fill="#0000ff"/><rect x="197" y="395" width="5" height="5" fill="#0000ff"/><rect x="213.5" y="370.5" width="5" height="5" fill="#0000ff"/><rect x="230.5" y="364.5" width="5" height="5" fill="#0000ff"/><rect x="248.5" y="366.5" width="5" height="5" fill="#0000ff"/><rect x="264.5" y="374.5" width="5" height="5" fill="#0000ff"/><rect x="278.9" y="386.5" width="5" height="5" fill="#0000ff"/><rect x="287.5" y="401.5" width="5" height="5" fill="#0000ff"/><rect x="293" y="420" width="5" height="5" fill="#0000ff"/><rect x="294.5" y="440" width="5" height="5" fill="#0000ff"/><rect x="292.5" y="458.5" width="5" height="5" fill="#0000ff"/><rect x="286.9" y="476.5" width="5" height="5" fill="#0000ff"/><rect x="280.5" y="492.9" width="5" height="5" fill="#0000ff"/><rect x="270.5" y="507.5" width="5" height="5" fill="#0000ff"/><rect x="255.5" y="519.5" width="5" height="5" fill="#0000ff"/><rect x="237.5" y="524.5" width="5" height="5" fill="#0000ff"/><rect x="218.1" y="520.9" width="5" height="5" fill="#0000ff"/><rect x="199.7" y="505" width="5" height="5" fill="#0000ff"/><rect x="188.3" y="450.7" width="5" height="5" fill="#0000ff"/><rect x="189.1" y="488" width="5" height="5" fill="#0000ff"/><rect x="174.1" y="519.5" width="5" height="5" fill="#0000ff"/><rect x="154.1" y="530.1" width="5" height="5" fill="#0000ff"/><rect x="136.1" y="527.5" width="5" height="5" fill="#0000ff"/><rect x="121.5" y="517.5" width="5" height="5" fill="#0000ff"/><rect x="111.8" y="502.5" width="5" height="5" fill="#0000ff"/><rect x="114.5" y="481.2" width="5" height="5" fill="#0000ff"/><rect x="108.9" y="468.2" width="5" height="5" fill="#0000ff"/><rect x="94.2" y="456.2" width="5" height="5" fill="#0000ff"/><rect x="90.6" y="439.7" width="5" height="5" fill="#0000ff"/><rect x="92.5" y="422.5" width="5" height="5" fill="#0000ff"/><rect x="99.5" y="406.9" width="5" height="5" fill="#0000ff"/><rect x="107.5" y="392.1" width="5" height="5" fill="#0000ff"/><rect x="114.9" y="378.1" width="5" height="5" fill="#0000ff"/><rect x="126.1" y="366.1" width="5" height="5" fill="#0000ff"/><rect x="140.1" y="356.1" width="5" height="5" fill="#0000ff"/><rect x="156.1" y="352.1" width="5" height="5" fill="#0000ff"/><rect x="173.5" y="357.5" width="5" height="5" fill="#0000ff"/><path d="M190.8 403 L191.6 401.3 L192.5 399.7 L193.4 398 L194.4 396.4 L195.4 394.8 L196.5 393.3 L197.7 391.7 L198.9 390.2 L200.2 388.7 L201.7 386.7 L203.2 384.8 L204.8 382.9 L206.5 381 L208.2 379.2 L210.1 377.4 L212 375.7 L214 374 L216 372.4 L217.6 371.9 L219.2 371.4 L220.9 371 L222.5 370.6 L224.2 370.2 L225.9 369.9 L227.7 369.6 L229.4 369.4 L231.2 369.2 L233 369 L234.8 369.2 L236.5 369.5 L238.3 369.8 L240.1 370.1 L241.9 370.5 L243.6 370.9 L245.4 371.4 L247.2 371.9 L249 372.4 L250.6 373 L252.2 373.6 L253.7 374.3 L255.3 375 L256.9 375.8 L258.4 376.5 L260 377.4 L261.5 378.2 L263.1 379.1 L264.6 380 L266.2 381.1 L267.7 382.2 L269.2 383.3 L270.7 384.5 L272.2 385.8 L273.7 387 L275.1 388.3 L276.6 389.6 L278 391 L279.3 392.5 L280.6 394 L281.9 395.6 L283.2 397.2 L284.4 398.8 L285.6 400.5 L286.8 402.1 L287.9 403.9 L289 405.6 L289.9 407.5 L290.7 409.3 L291.5 411.2 L292.2 413.2 L292.9 415.1 L293.6 417 L294.2 419 L294.8 421 L295.4 423 L295.8 424.9 L296.2 426.7 L296.5 428.6 L296.8 430.5 L297.1 432.4 L297.4 434.3 L297.6 436.2 L297.8 438.2 L297.9 440.1 L298 442 L297.8 443.9 L297.6 445.8 L297.3 447.7 L297 449.5 L296.7 451.4 L296.3 453.3 L296 455.1 L295.5 457 L295.1 458.8 L294.6 460.6 L294.2 462.6 L293.7 464.5 L293.2 466.5 L292.7 468.5 L292.1 470.4 L291.5 472.3 L290.8 474.2 L290.1 476.1 L289.4 478 L288.3 479.7 L287.2 481.5 L286.1 483.1 L284.9 484.8 L283.7 486.4 L282.4 488 L281.2 489.6 L279.9 491.1 L278.6 492.6 L277.2 494 L275.7 495.4 L274.2 496.7 L272.7 498 L271.2 499.3 L269.7 500.5 L268.1 501.7 L266.6 502.9 L265 504 L263.4 505 L261.9 505.9 L260.3 506.8 L258.7 507.6 L257.1 508.5 L255.5 509.2 L253.9 510 L252.3 510.7 L250.6 511.4 L249 512 L247.2 512.5 L245.3 512.9 L243.5 513.3 L241.6 513.6 L239.8 513.9 L238 514.1 L236.2 514.3 L234.4 514.5 L232.6 514.6 L230.5 514.1 L228.4 513.6 L226.4 513.1 L224.4 512.4 L222.4 511.8 L220.5 511 L218.6 510.3 L216.8 509.5 L215 508.6 L212.7 506.2 L210.6 503.7 L208.5 501.1 L206.6 498.5 L204.7 495.9 L203 493.2 L201.4 490.4 L199.8 487.6 L198.4 484.8 L196.7 480 L195.2 475.2 L193.9 470.3 L192.8 465.4 L192.6 468.6 L192.4 471.7 L192 474.9 L191.4 478.1 L190.8 481.2 L190.8 485.3 L190 487.6 L189.1 489.9 L188.1 492.2 L187.1 494.5 L185.9 496.8 L184.7 499 L183.4 501.2 L182 503.4 L180.6 505.5 L179 507.6 L177.5 508.7 L176 509.7 L174.4 510.7 L172.8 511.7 L171.1 512.7 L169.4 513.5 L167.6 514.4 L165.8 515.2 L164 516 L162.4 516.1 L160.9 516.1 L159.3 516.1 L157.7 516 L156.1 515.9 L154.5 515.8 L152.9 515.7 L151.3 515.5 L149.6 515.3 L148 515 L146.4 514.6 L144.7 514.1 L143.1 513.7 L141.5 513.1 L139.9 512.6 L138.2 512 L136.6 511.4 L135 510.7 L133.4 510 L132 509.2 L130.6 508.4 L129.3 507.6 L127.9 506.7 L126.6 505.8 L125.2 504.9 L123.9 504 L122.6 503 L121.3 502 L120 501 L118.7 500 L117.5 498.9 L116.2 497.8 L115 496.7 L113.8 495.5 L112.6 494.3 L111.4 493.1 L110.3 491.9 L109.1 490.7 L108 489.4 L107 488.1 L105.9 486.7 L104.9 485.4 L104 484 L103 482.6 L102.1 481.1 L101.2 479.7 L100.3 478.2 L99.4 476.7 L98.6 475.2 L97.8 473.5 L97 471.8 L96.3 470.1 L95.6 468.3 L94.9 466.6 L94.2 464.8 L93.6 463 L93 461.2 L92.5 459.4 L92.1 457.7 L91.8 456 L91.5 454.2 L91.2 452.5 L90.9 450.8 L90.7 449 L90.5 447.3 L90.3 445.5 L90.2 443.8 L90.1 442 L90.2 440.2 L90.4 438.5 L90.5 436.7 L90.7 435 L91 433.2 L91.2 431.5 L91.5 429.8 L91.9 428 L92.2 426.3 L92.6 424.6 L93.1 422.9 L93.6 421.2 L94.1 419.5 L94.7 417.8 L95.2 416.1 L95.9 414.5 L96.5 412.8 L97.2 411.2 L97.9 409.6 L98.6 408 L99.5 406.4 L100.5 404.9 L101.5 403.3 L102.5 401.8 L103.6 400.3 L104.6 398.8 L105.7 397.4 L106.9 396 L108 394.6 L109.1 393.3 L110.2 392 L111.4 390.7 L112.6 389.5 L113.8 388.3 L115 387.1 L116.2 385.9 L117.5 384.8 L118.7 383.7 L120 382.6 L121.4 381.6 L122.9 380.5 L124.4 379.6 L125.8 378.6 L127.3 377.7 L128.8 376.8 L130.3 376 L131.9 375.2 L133.4 374.4 L134.9 373.8 L136.4 373.2 L137.9 372.6 L139.5 372.1 L141 371.6 L142.5 371.1 L144 370.7 L145.6 370.3 L147.1 369.9 L148.6 369.6 L150.4 369.5 L152.1 369.4 L153.9 369.4 L155.6 369.4 L157.3 369.4 L159 369.5 L160.7 369.6 L162.3 369.8 L164 370 L165.8 370.8 L167.5 371.6 L169.2 372.4 L170.9 373.3 L172.5 374.2 L174.1 375.2 L175.6 376.1 L177.1 377.2 L178.6 378.2 L180 379.3 L181.5 381.6 L182.8 383.8 L184.1 386.2 L185.3 388.5 L186.5 390.9 L187.5 393.3 L188.4 395.7 L189.3 398.1 L190.1 400.5 L190.8 403" fill="none" stroke="#f03030" stroke-width="2" stroke-linejoin="round"/><circle cx="190.8" cy="403" r="2.9" fill="#ff0000"/><circle cx="200.2" cy="388.7" r="2.9" fill="#ff0000"/><circle cx="216" cy="372.4" r="2.9" fill="#ff0000"/><circle cx="233" cy="369" r="2.9" fill="#ff0000"/><circle cx="249" cy="372.4" r="2.9" fill="#ff0000"/><circle cx="264.6" cy="380" r="2.9" fill="#ff0000"/><circle cx="278" cy="391" r="2.9" fill="#ff0000"/><circle cx="289" cy="405.6" r="2.9" fill="#ff0000"/><circle cx="295.4" cy="423" r="2.9" fill="#ff0000"/><circle cx="298" cy="442" r="2.9" fill="#ff0000"/><circle cx="294.6" cy="460.6" r="2.9" fill="#ff0000"/><circle cx="289.4" cy="478" r="2.9" fill="#ff0000"/><circle cx="278.6" cy="492.6" r="2.9" fill="#ff0000"/><circle cx="265" cy="504" r="2.9" fill="#ff0000"/><circle cx="249" cy="512" r="2.9" fill="#ff0000"/><circle cx="232.6" cy="514.6" r="2.9" fill="#ff0000"/><circle cx="215" cy="508.6" r="2.9" fill="#ff0000"/><circle cx="198.4" cy="484.8" r="2.9" fill="#ff0000"/><circle cx="190.8" cy="481.2" r="2.9" fill="#ff0000"/><circle cx="190.8" cy="485.3" r="2.9" fill="#ff0000"/><circle cx="179" cy="507.6" r="2.9" fill="#ff0000"/><circle cx="164" cy="516" r="2.9" fill="#ff0000"/><circle cx="148" cy="515" r="2.9" fill="#ff0000"/><circle cx="133.4" cy="510" r="2.9" fill="#ff0000"/><circle cx="120" cy="501" r="2.9" fill="#ff0000"/><circle cx="108" cy="489.4" r="2.9" fill="#ff0000"/><circle cx="98.6" cy="475.2" r="2.9" fill="#ff0000"/><circle cx="92.5" cy="459.4" r="2.9" fill="#ff0000"/><circle cx="90.1" cy="442" r="2.9" fill="#ff0000"/><circle cx="92.6" cy="424.6" r="2.9" fill="#ff0000"/><circle cx="98.6" cy="408" r="2.9" fill="#ff0000"/><circle cx="108" cy="394.6" r="2.9" fill="#ff0000"/><circle cx="120" cy="382.6" r="2.9" fill="#ff0000"/><circle cx="133.4" cy="374.4" r="2.9" fill="#ff0000"/><circle cx="148.6" cy="369.6" r="2.9" fill="#ff0000"/><circle cx="164" cy="370" r="2.9" fill="#ff0000"/><circle cx="180" cy="379.3" r="2.9" fill="#ff0000"/><circle cx="190.3" cy="442.2" r="108.6" fill="none" stroke="#111" stroke-width="1.8"/><line x1="190.3" y1="333.6" x2="190.3" y2="338.6" stroke="#111" stroke-width="1.5"/><line x1="218.4" y1="337.3" x2="217.6" y2="340.2" stroke="#111" stroke-width="1.5"/><line x1="244.6" y1="348.1" x2="242.1" y2="352.5" stroke="#111" stroke-width="1.5"/><line x1="267.1" y1="365.4" x2="265" y2="367.5" stroke="#111" stroke-width="1.5"/><line x1="284.4" y1="387.9" x2="280" y2="390.4" stroke="#111" stroke-width="1.5"/><line x1="295.2" y1="414.1" x2="292.3" y2="414.9" stroke="#111" stroke-width="1.5"/><line x1="298.9" y1="442.2" x2="293.9" y2="442.2" stroke="#111" stroke-width="1.5"/><line x1="295.2" y1="470.3" x2="292.3" y2="469.5" stroke="#111" stroke-width="1.5"/><line x1="284.4" y1="496.5" x2="280" y2="494" stroke="#111" stroke-width="1.5"/><line x1="267.1" y1="519" x2="265" y2="516.9" stroke="#111" stroke-width="1.5"/><line x1="244.6" y1="536.3" x2="242.1" y2="531.9" stroke="#111" stroke-width="1.5"/><line x1="218.4" y1="547.1" x2="217.6" y2="544.2" stroke="#111" stroke-width="1.5"/><line x1="190.3" y1="550.8" x2="190.3" y2="545.8" stroke="#111" stroke-width="1.5"/><line x1="162.2" y1="547.1" x2="163" y2="544.2" stroke="#111" stroke-width="1.5"/><line x1="136" y1="536.3" x2="138.5" y2="531.9" stroke="#111" stroke-width="1.5"/><line x1="113.5" y1="519" x2="115.6" y2="516.9" stroke="#111" stroke-width="1.5"/><line x1="96.2" y1="496.5" x2="100.6" y2="494" stroke="#111" stroke-width="1.5"/><line x1="85.4" y1="470.3" x2="88.3" y2="469.5" stroke="#111" stroke-width="1.5"/><line x1="81.7" y1="442.2" x2="86.7" y2="442.2" stroke="#111" stroke-width="1.5"/><line x1="85.4" y1="414.1" x2="88.3" y2="414.9" stroke="#111" stroke-width="1.5"/><line x1="96.2" y1="387.9" x2="100.6" y2="390.4" stroke="#111" stroke-width="1.5"/><line x1="113.5" y1="365.4" x2="115.6" y2="367.5" stroke="#111" stroke-width="1.5"/><line x1="136" y1="348.1" x2="138.5" y2="352.5" stroke="#111" stroke-width="1.5"/><line x1="162.2" y1="337.3" x2="163" y2="340.2" stroke="#111" stroke-width="1.5"/><text class="n" transform="translate(190 325.3) scale(0.955 1)" text-anchor="middle">0</text><text class="n" transform="translate(253.3 341.2) scale(0.955 1)" text-anchor="middle">30</text><text class="n" transform="translate(295.3 383.1) scale(0.955 1)" text-anchor="middle">60</text><text class="n" transform="translate(310.8 446.7) scale(0.955 1)" text-anchor="middle">90</text><text class="n" transform="translate(298.7 510.9) scale(0.955 1)" text-anchor="middle">120</text><text class="n" transform="translate(256 552.5) scale(0.955 1)" text-anchor="middle">150</text><text class="n" transform="translate(190.4 567.9) scale(0.955 1)" text-anchor="middle">180</text><text class="n" transform="translate(123.6 552.5) scale(0.955 1)" text-anchor="middle">210</text><text class="n" transform="translate(81.7 510.9) scale(0.955 1)" text-anchor="middle">240</text><text class="n" transform="translate(66.3 446.9) scale(0.955 1)" text-anchor="middle">270</text><text class="n" transform="translate(81.7 383) scale(0.955 1)" text-anchor="middle">300</text><text class="n" transform="translate(123.8 341) scale(0.955 1)" text-anchor="middle">330</text><line x1="54.6" y1="332.7" x2="54.6" y2="551.7" stroke="#111" stroke-width="1.8"/><line x1="48.6" y1="333.6" x2="54.6" y2="333.6" stroke="#111" stroke-width="1.5"/><text class="n" transform="translate(47.3 338.5) scale(0.955 1)" text-anchor="end">0</text><line x1="51.6" y1="351.7" x2="54.6" y2="351.7" stroke="#111" stroke-width="1.5"/><line x1="48.6" y1="369.8" x2="54.6" y2="369.8" stroke="#111" stroke-width="1.5"/><text class="n" transform="translate(47.3 374.7) scale(0.955 1)" text-anchor="end">-10</text><line x1="51.6" y1="387.9" x2="54.6" y2="387.9" stroke="#111" stroke-width="1.5"/><line x1="48.6" y1="406" x2="54.6" y2="406" stroke="#111" stroke-width="1.5"/><text class="n" transform="translate(47.3 410.9) scale(0.955 1)" text-anchor="end">-20</text><line x1="51.6" y1="424.1" x2="54.6" y2="424.1" stroke="#111" stroke-width="1.5"/><line x1="48.6" y1="442.2" x2="54.6" y2="442.2" stroke="#111" stroke-width="1.5"/><text class="n" style="stroke-width:0.75px" transform="translate(47.1 448.1) scale(1.0 1.05)" text-anchor="end">-30</text><line x1="51.6" y1="460.3" x2="54.6" y2="460.3" stroke="#111" stroke-width="1.5"/><line x1="48.6" y1="478.4" x2="54.6" y2="478.4" stroke="#111" stroke-width="1.5"/><text class="n" transform="translate(47.3 483.2) scale(0.955 1)" text-anchor="end">-20</text><line x1="51.6" y1="496.5" x2="54.6" y2="496.5" stroke="#111" stroke-width="1.5"/><line x1="48.6" y1="514.6" x2="54.6" y2="514.6" stroke="#111" stroke-width="1.5"/><text class="n" transform="translate(47.3 519.5) scale(0.955 1)" text-anchor="end">-10</text><line x1="51.6" y1="532.7" x2="54.6" y2="532.7" stroke="#111" stroke-width="1.5"/><line x1="48.6" y1="550.8" x2="54.6" y2="550.8" stroke="#111" stroke-width="1.5"/><text class="n" transform="translate(47.3 555.6) scale(0.955 1)" text-anchor="end">0</text><line x1="54.5" y1="308.3" x2="81.5" y2="308.3" stroke="#0000ff" stroke-width="2"/><rect x="65.5" y="305.8" width="5" height="5" fill="#0000ff"/><text class="lg" x="84" y="312.1">Measured</text><line x1="54.5" y1="322.6" x2="81.5" y2="322.6" stroke="#f03030" stroke-width="2"/><circle cx="68" cy="322.6" r="2.9" fill="#ff0000"/><text class="lg" x="84" y="326.4">Simulated</text><text class="pl" x="188" y="580.9" text-anchor="middle">(c)</text></g>
<g><circle cx="534.4" cy="441.8" r="18.2" fill="none" stroke="#dadada" stroke-width="0.8" stroke-dasharray="1 2"/><circle cx="534.4" cy="441.8" r="54.5" fill="none" stroke="#dadada" stroke-width="0.8" stroke-dasharray="1 2"/><circle cx="534.4" cy="441.8" r="90.8" fill="none" stroke="#dadada" stroke-width="0.8" stroke-dasharray="1 2"/><circle cx="534.4" cy="441.8" r="36.3" fill="none" stroke="#a4a4a4" stroke-width="0.8"/><circle cx="534.4" cy="441.8" r="72.6" fill="none" stroke="#a4a4a4" stroke-width="0.8"/><line x1="534.4" y1="423.7" x2="534.4" y2="332.9" stroke="#a4a4a4" stroke-width="0.8"/><line x1="539.1" y1="424.3" x2="562.6" y2="336.6" stroke="#dadada" stroke-width="0.8" stroke-dasharray="1 2"/><line x1="543.5" y1="426.1" x2="588.9" y2="347.5" stroke="#a4a4a4" stroke-width="0.8"/><line x1="547.2" y1="429" x2="611.4" y2="364.8" stroke="#dadada" stroke-width="0.8" stroke-dasharray="1 2"/><line x1="550.1" y1="432.7" x2="628.7" y2="387.4" stroke="#a4a4a4" stroke-width="0.8"/><line x1="551.9" y1="437.1" x2="639.6" y2="413.6" stroke="#dadada" stroke-width="0.8" stroke-dasharray="1 2"/><line x1="552.5" y1="441.8" x2="643.3" y2="441.8" stroke="#a4a4a4" stroke-width="0.8"/><line x1="551.9" y1="446.5" x2="639.6" y2="470" stroke="#dadada" stroke-width="0.8" stroke-dasharray="1 2"/><line x1="550.1" y1="450.9" x2="628.7" y2="496.2" stroke="#a4a4a4" stroke-width="0.8"/><line x1="547.2" y1="454.6" x2="611.4" y2="518.8" stroke="#dadada" stroke-width="0.8" stroke-dasharray="1 2"/><line x1="543.5" y1="457.5" x2="588.9" y2="536.1" stroke="#a4a4a4" stroke-width="0.8"/><line x1="539.1" y1="459.3" x2="562.6" y2="547" stroke="#dadada" stroke-width="0.8" stroke-dasharray="1 2"/><line x1="534.4" y1="459.9" x2="534.4" y2="550.7" stroke="#a4a4a4" stroke-width="0.8"/><line x1="529.7" y1="459.3" x2="506.2" y2="547" stroke="#dadada" stroke-width="0.8" stroke-dasharray="1 2"/><line x1="525.3" y1="457.5" x2="479.9" y2="536.1" stroke="#a4a4a4" stroke-width="0.8"/><line x1="521.6" y1="454.6" x2="457.4" y2="518.8" stroke="#dadada" stroke-width="0.8" stroke-dasharray="1 2"/><line x1="518.7" y1="450.9" x2="440.1" y2="496.3" stroke="#a4a4a4" stroke-width="0.8"/><line x1="516.9" y1="446.5" x2="429.2" y2="470" stroke="#dadada" stroke-width="0.8" stroke-dasharray="1 2"/><line x1="516.2" y1="441.8" x2="425.5" y2="441.8" stroke="#a4a4a4" stroke-width="0.8"/><line x1="516.9" y1="437.1" x2="429.2" y2="413.6" stroke="#dadada" stroke-width="0.8" stroke-dasharray="1 2"/><line x1="518.7" y1="432.7" x2="440.1" y2="387.4" stroke="#a4a4a4" stroke-width="0.8"/><line x1="521.6" y1="429" x2="457.4" y2="364.8" stroke="#dadada" stroke-width="0.8" stroke-dasharray="1 2"/><line x1="525.3" y1="426.1" x2="479.9" y2="347.5" stroke="#a4a4a4" stroke-width="0.8"/><line x1="529.7" y1="424.3" x2="506.2" y2="336.6" stroke="#dadada" stroke-width="0.8" stroke-dasharray="1 2"/><path d="M532.7 424.5 L547.4 365.8 L565.6 356 L581 361 L593.6 371.6 L603.6 384 L613.6 396 L624.4 408.4 L634.4 423 L637.8 441 L633.6 458.6 L626.4 474.6 L616 488 L602.4 498.6 L588.4 506 L573.6 510 L559.6 510.6 L546.2 508 L538.3 503 L534 496.4 L534 484.3 L531.4 473 L526.2 483.8 L519.7 499 L510 508.3 L491.6 515.4 L477 510 L468 496.6 L469 487 L475 476.6 L483.6 465 L473 463.4 L456 463 L449 461 L443.6 457.4 L434.7 452 L430.2 441.5 L430 423.4 L441 408 L457.6 397.8 L473.1 390.1 L477.8 385.2 L489.1 388.1 L490.3 379.3 L498.5 380.3 L511.3 378 L517.2 378.4 L523.6 382.9 L532.7 424.5" fill="none" stroke="#0000ff" stroke-width="2" stroke-linejoin="round"/><rect x="530.2" y="422" width="5" height="5" fill="#0000ff"/><rect x="544.9" y="363.3" width="5" height="5" fill="#0000ff"/><rect x="563.1" y="353.5" width="5" height="5" fill="#0000ff"/><rect x="578.5" y="358.5" width="5" height="5" fill="#0000ff"/><rect x="591.1" y="369.1" width="5" height="5" fill="#0000ff"/><rect x="601.1" y="381.5" width="5" height="5" fill="#0000ff"/><rect x="611.1" y="393.5" width="5" height="5" fill="#0000ff"/><rect x="621.9" y="405.9" width="5" height="5" fill="#0000ff"/><rect x="631.9" y="420.5" width="5" height="5" fill="#0000ff"/><rect x="635.3" y="438.5" width="5" height="5" fill="#0000ff"/><rect x="631.1" y="456.1" width="5" height="5" fill="#0000ff"/><rect x="623.9" y="472.1" width="5" height="5" fill="#0000ff"/><rect x="613.5" y="485.5" width="5" height="5" fill="#0000ff"/><rect x="599.9" y="496.1" width="5" height="5" fill="#0000ff"/><rect x="585.9" y="503.5" width="5" height="5" fill="#0000ff"/><rect x="571.1" y="507.5" width="5" height="5" fill="#0000ff"/><rect x="557.1" y="508.1" width="5" height="5" fill="#0000ff"/><rect x="543.7" y="505.5" width="5" height="5" fill="#0000ff"/><rect x="531.5" y="493.9" width="5" height="5" fill="#0000ff"/><rect x="531.5" y="481.8" width="5" height="5" fill="#0000ff"/><rect x="523.7" y="481.3" width="5" height="5" fill="#0000ff"/><rect x="507.5" y="505.8" width="5" height="5" fill="#0000ff"/><rect x="489.1" y="512.9" width="5" height="5" fill="#0000ff"/><rect x="474.5" y="507.5" width="5" height="5" fill="#0000ff"/><rect x="465.5" y="494.1" width="5" height="5" fill="#0000ff"/><rect x="472.5" y="474.1" width="5" height="5" fill="#0000ff"/><rect x="470.5" y="460.9" width="5" height="5" fill="#0000ff"/><rect x="441.1" y="454.9" width="5" height="5" fill="#0000ff"/><rect x="427.7" y="439" width="5" height="5" fill="#0000ff"/><rect x="427.5" y="420.9" width="5" height="5" fill="#0000ff"/><rect x="438.5" y="405.5" width="5" height="5" fill="#0000ff"/><rect x="455.1" y="395.3" width="5" height="5" fill="#0000ff"/><rect x="470.6" y="387.6" width="5" height="5" fill="#0000ff"/><rect x="486.6" y="385.6" width="5" height="5" fill="#0000ff"/><rect x="496" y="377.8" width="5" height="5" fill="#0000ff"/><rect x="508.8" y="375.5" width="5" height="5" fill="#0000ff"/><rect x="521.1" y="380.4" width="5" height="5" fill="#0000ff"/><path d="M534.3 388.6 L535 430.3 L539 415 L540.4 410 L542 405.1 L543.8 400.2 L545.8 395.4 L547.9 390.6 L549.8 388.3 L551.7 386 L553.8 383.8 L556 381.7 L557.5 381.2 L559 380.8 L560.6 380.4 L562.2 380.1 L563.4 380.6 L564.6 381.2 L565.7 381.8 L566.9 382.4 L568 383 L568.7 384.3 L569.3 385.6 L569.9 386.9 L570.4 388.2 L570.9 389.5 L571.4 390.8 L571.9 392.1 L572.3 393.4 L572.7 394.7 L573 396 L574 396.6 L575 397.1 L576 397.7 L577 398.4 L578 399 L580.4 398.4 L582.9 397.8 L585.4 397.4 L588 397 L590.5 396.7 L592.9 396.6 L595.5 396.5 L598 396.5 L600.6 396.5 L603.2 396.7 L605.8 396.9 L608.4 397.2 L611 397.6 L613 398.5 L614.9 399.4 L616.9 400.4 L618.8 401.4 L620.8 402.6 L622.7 403.7 L624.6 405 L626.5 406.2 L628.4 407.6 L629.7 409.2 L631 410.8 L632.2 412.4 L633.4 414.1 L634.6 415.8 L635.7 417.6 L636.9 419.3 L637.9 421.2 L639 423 L639.4 424.8 L639.8 426.7 L640.2 428.6 L640.5 430.4 L640.8 432.3 L641.1 434.2 L641.3 436.1 L641.5 438 L641.7 439.9 L641.8 441.8 L641.8 443.8 L641.7 445.9 L641.5 447.9 L641.4 449.9 L641.2 452 L640.9 454 L640.7 456 L640.4 458 L640 460 L639.3 461.8 L638.6 463.6 L637.8 465.3 L637 467.1 L636.2 468.8 L635.3 470.5 L634.4 472.1 L633.5 473.8 L632.6 475.4 L631.6 477 L630.2 478.5 L628.7 480 L627.2 481.5 L625.8 482.9 L624.2 484.3 L622.7 485.6 L621.2 486.9 L619.6 488.2 L618 489.4 L616.2 490.5 L614.4 491.5 L612.6 492.5 L610.8 493.5 L608.9 494.4 L607.1 495.2 L605.3 496 L603.4 496.7 L601.6 497.4 L599.9 498 L598.3 498.5 L596.6 499 L594.9 499.5 L593.2 499.9 L591.6 500.3 L589.9 500.6 L588.3 500.9 L586.6 501.2 L585 501.4 L583.4 501.7 L581.9 501.9 L580.3 502.1 L578.7 502.3 L577.2 502.4 L575.6 502.5 L574.1 502.6 L572.6 502.6 L571.1 502.6 L569.6 502.6 L567.9 502.3 L566.2 502 L564.5 501.6 L562.9 501.2 L561.3 500.7 L559 498.6 L556.8 496.4 L554.6 494.1 L552.6 491.8 L550.3 488.3 L548.2 484.7 L546.2 481 L544.3 477.3 L542.6 473.5 L541.1 469.7 L539.7 465.9 L538.4 461.9 L537.3 458 L537.9 463.3 L538.2 468.6 L538.4 474 L538.4 479.3 L538.1 484.7 L537.7 490.1 L537.1 495.5 L536.4 500.8 L535.4 506.2 L534.2 511.5 L532.9 513.2 L531.6 514.9 L530.3 516.6 L528.8 518.2 L527.3 519.9 L525.8 521.5 L524.2 523 L522.5 524.5 L520.8 526 L519 527.5 L517.2 527.9 L515.4 528.3 L513.5 528.7 L511.6 529 L509.8 529.3 L507.8 529.5 L505.9 529.7 L504 529.9 L502 530 L500.2 529.5 L498.5 529 L496.7 528.5 L495 528 L493.3 527.3 L491.5 526.7 L489.8 526 L488.1 525.3 L486.4 524.6 L485 523.7 L483.6 522.8 L482.2 521.8 L480.8 520.9 L479.5 519.9 L478.1 518.9 L476.8 517.8 L475.5 516.8 L474.3 515.7 L473 514.6 L471.7 513.5 L470.4 512.4 L469.2 511.2 L467.9 510.1 L466.7 508.9 L465.5 507.7 L464.4 506.4 L463.2 505.2 L462.1 503.9 L461 502.6 L459.8 501.3 L458.6 500 L457.4 498.6 L456.3 497.2 L455.2 495.8 L454.1 494.4 L453 493 L452 491.5 L451 490 L450 488.6 L449 487.2 L448 485.7 L447.1 484.2 L446.2 482.7 L445.3 481.2 L444.4 479.7 L443.6 478.1 L442.8 476.6 L442 475 L441.3 473.2 L440.6 471.4 L440 469.6 L439.4 467.8 L438.9 466 L438.4 464.2 L437.9 462.3 L437.4 460.5 L437 458.6 L436.7 456.7 L436.4 454.9 L436.2 453 L436 451.1 L435.9 449.2 L435.7 447.4 L435.7 445.5 L435.6 443.6 L435.6 441.7 L435.8 439.8 L436 437.9 L436.2 436.1 L436.5 434.2 L436.8 432.3 L437.2 430.5 L437.5 428.6 L437.9 426.8 L438.4 425 L439 423.4 L439.6 421.7 L440.3 420.1 L441 418.5 L441.7 417 L442.4 415.4 L443.2 413.9 L444 412.4 L444.8 410.9 L445.6 409.4 L446.6 407.9 L447.6 406.3 L448.7 404.9 L449.8 403.4 L450.9 402 L452 400.5 L453.1 399.2 L454.3 397.8 L455.5 396.5 L456.4 395.2 L457.4 393.9 L458.3 392.6 L459.3 391.4 L460.3 390.2 L461.4 388.9 L462.4 387.7 L463.5 386.6 L464.6 385.4 L465.7 384.3 L466.8 383 L467.9 381.6 L469 380.3 L470.2 379.1 L471.4 377.8 L472.6 376.6 L473.9 375.4 L475.1 374.2 L476.4 373 L477.6 371.8 L478.9 370.6 L480.2 369.5 L481.5 368.3 L482.8 367.2 L484.2 366.1 L485.6 365.1 L487 364 L488.4 363 L489.9 362.4 L491.4 361.8 L492.9 361.2 L494.4 360.7 L495.9 360.1 L497.5 359.7 L499 359.2 L500.5 358.8 L502.1 358.4 L503.6 358 L505.4 358.4 L507.2 358.8 L508.9 359.3 L510.6 359.7 L512.3 360.3 L514 360.8 L515.6 361.4 L517.3 362.1 L518.8 362.7 L520.4 363.4 L522.2 365.8 L523.9 368.2 L525.5 370.6 L527 373.1 L528.5 375.6 L529.8 378.2 L531.1 380.8 L532.2 383.4 L533.3 386 L534.3 388.6" fill="none" stroke="#f03030" stroke-width="2" stroke-linejoin="round"/><circle cx="534.3" cy="388.6" r="2.9" fill="#ff0000"/><circle cx="539" cy="415" r="2.9" fill="#ff0000"/><circle cx="556" cy="381.7" r="2.9" fill="#ff0000"/><circle cx="568" cy="383" r="2.9" fill="#ff0000"/><circle cx="573" cy="396" r="2.9" fill="#ff0000"/><circle cx="588" cy="397" r="2.9" fill="#ff0000"/><circle cx="611" cy="397.6" r="2.9" fill="#ff0000"/><circle cx="628.4" cy="407.6" r="2.9" fill="#ff0000"/><circle cx="639" cy="423" r="2.9" fill="#ff0000"/><circle cx="641.8" cy="441.8" r="2.9" fill="#ff0000"/><circle cx="640" cy="460" r="2.9" fill="#ff0000"/><circle cx="631.6" cy="477" r="2.9" fill="#ff0000"/><circle cx="618" cy="489.4" r="2.9" fill="#ff0000"/><circle cx="601.6" cy="497.4" r="2.9" fill="#ff0000"/><circle cx="585" cy="501.4" r="2.9" fill="#ff0000"/><circle cx="569.6" cy="502.6" r="2.9" fill="#ff0000"/><circle cx="552.6" cy="491.8" r="2.9" fill="#ff0000"/><circle cx="537.3" cy="458" r="2.9" fill="#ff0000"/><circle cx="534.2" cy="511.5" r="2.9" fill="#ff0000"/><circle cx="519" cy="527.5" r="2.9" fill="#ff0000"/><circle cx="502" cy="530" r="2.9" fill="#ff0000"/><circle cx="486.4" cy="524.6" r="2.9" fill="#ff0000"/><circle cx="473" cy="514.6" r="2.9" fill="#ff0000"/><circle cx="461" cy="502.6" r="2.9" fill="#ff0000"/><circle cx="451" cy="490" r="2.9" fill="#ff0000"/><circle cx="442" cy="475" r="2.9" fill="#ff0000"/><circle cx="437" cy="458.6" r="2.9" fill="#ff0000"/><circle cx="435.6" cy="441.7" r="2.9" fill="#ff0000"/><circle cx="438.4" cy="425" r="2.9" fill="#ff0000"/><circle cx="445.6" cy="409.4" r="2.9" fill="#ff0000"/><circle cx="455.5" cy="396.5" r="2.9" fill="#ff0000"/><circle cx="465.7" cy="384.3" r="2.9" fill="#ff0000"/><circle cx="476.4" cy="373" r="2.9" fill="#ff0000"/><circle cx="488.4" cy="363" r="2.9" fill="#ff0000"/><circle cx="503.6" cy="358" r="2.9" fill="#ff0000"/><circle cx="520.4" cy="363.4" r="2.9" fill="#ff0000"/><circle cx="534.4" cy="441.8" r="108.9" fill="none" stroke="#111" stroke-width="1.8"/><line x1="534.4" y1="332.9" x2="534.4" y2="337.9" stroke="#111" stroke-width="1.5"/><line x1="562.6" y1="336.6" x2="561.8" y2="339.5" stroke="#111" stroke-width="1.5"/><line x1="588.9" y1="347.5" x2="586.4" y2="351.8" stroke="#111" stroke-width="1.5"/><line x1="611.4" y1="364.8" x2="609.3" y2="366.9" stroke="#111" stroke-width="1.5"/><line x1="628.7" y1="387.4" x2="624.4" y2="389.9" stroke="#111" stroke-width="1.5"/><line x1="639.6" y1="413.6" x2="636.7" y2="414.4" stroke="#111" stroke-width="1.5"/><line x1="643.3" y1="441.8" x2="638.3" y2="441.8" stroke="#111" stroke-width="1.5"/><line x1="639.6" y1="470" x2="636.7" y2="469.2" stroke="#111" stroke-width="1.5"/><line x1="628.7" y1="496.2" x2="624.4" y2="493.8" stroke="#111" stroke-width="1.5"/><line x1="611.4" y1="518.8" x2="609.3" y2="516.7" stroke="#111" stroke-width="1.5"/><line x1="588.9" y1="536.1" x2="586.4" y2="531.8" stroke="#111" stroke-width="1.5"/><line x1="562.6" y1="547" x2="561.8" y2="544.1" stroke="#111" stroke-width="1.5"/><line x1="534.4" y1="550.7" x2="534.4" y2="545.7" stroke="#111" stroke-width="1.5"/><line x1="506.2" y1="547" x2="507" y2="544.1" stroke="#111" stroke-width="1.5"/><line x1="479.9" y1="536.1" x2="482.4" y2="531.8" stroke="#111" stroke-width="1.5"/><line x1="457.4" y1="518.8" x2="459.5" y2="516.7" stroke="#111" stroke-width="1.5"/><line x1="440.1" y1="496.3" x2="444.4" y2="493.8" stroke="#111" stroke-width="1.5"/><line x1="429.2" y1="470" x2="432.1" y2="469.2" stroke="#111" stroke-width="1.5"/><line x1="425.5" y1="441.8" x2="430.5" y2="441.8" stroke="#111" stroke-width="1.5"/><line x1="429.2" y1="413.6" x2="432.1" y2="414.4" stroke="#111" stroke-width="1.5"/><line x1="440.1" y1="387.4" x2="444.4" y2="389.9" stroke="#111" stroke-width="1.5"/><line x1="457.4" y1="364.8" x2="459.5" y2="366.9" stroke="#111" stroke-width="1.5"/><line x1="479.9" y1="347.5" x2="482.4" y2="351.8" stroke="#111" stroke-width="1.5"/><line x1="506.2" y1="336.6" x2="507" y2="339.5" stroke="#111" stroke-width="1.5"/><text class="n" transform="translate(534.1 324.6) scale(0.955 1)" text-anchor="middle">0</text><text class="n" transform="translate(597.5 340.6) scale(0.955 1)" text-anchor="middle">30</text><text class="n" transform="translate(639.7 382.5) scale(0.955 1)" text-anchor="middle">60</text><text class="n" transform="translate(655.2 446.3) scale(0.955 1)" text-anchor="middle">90</text><text class="n" transform="translate(643.1 510.7) scale(0.955 1)" text-anchor="middle">120</text><text class="n" transform="translate(600.3 552.4) scale(0.955 1)" text-anchor="middle">150</text><text class="n" transform="translate(534.5 567.8) scale(0.955 1)" text-anchor="middle">180</text><text class="n" transform="translate(467.5 552.4) scale(0.955 1)" text-anchor="middle">210</text><text class="n" transform="translate(425.5 510.7) scale(0.955 1)" text-anchor="middle">240</text><text class="n" transform="translate(410.1 446.5) scale(0.955 1)" text-anchor="middle">270</text><text class="n" transform="translate(425.5 382.4) scale(0.955 1)" text-anchor="middle">300</text><text class="n" transform="translate(467.7 340.3) scale(0.955 1)" text-anchor="middle">330</text><line x1="395" y1="332" x2="395" y2="551.6" stroke="#111" stroke-width="1.8"/><line x1="389" y1="332.9" x2="395" y2="332.9" stroke="#111" stroke-width="1.5"/><text class="n" transform="translate(388.2 337.8) scale(0.955 1)" text-anchor="end">0</text><line x1="392" y1="351" x2="395" y2="351" stroke="#111" stroke-width="1.5"/><line x1="389" y1="369.2" x2="395" y2="369.2" stroke="#111" stroke-width="1.5"/><text class="n" transform="translate(388.2 374.1) scale(0.955 1)" text-anchor="end">-10</text><line x1="392" y1="387.3" x2="395" y2="387.3" stroke="#111" stroke-width="1.5"/><line x1="389" y1="405.5" x2="395" y2="405.5" stroke="#111" stroke-width="1.5"/><text class="n" transform="translate(388.2 410.4) scale(0.955 1)" text-anchor="end">-20</text><line x1="392" y1="423.6" x2="395" y2="423.6" stroke="#111" stroke-width="1.5"/><line x1="389" y1="441.8" x2="395" y2="441.8" stroke="#111" stroke-width="1.5"/><text class="n" style="stroke-width:0.75px" transform="translate(388 447.7) scale(1.0 1.05)" text-anchor="end">-30</text><line x1="392" y1="459.9" x2="395" y2="459.9" stroke="#111" stroke-width="1.5"/><line x1="389" y1="478.1" x2="395" y2="478.1" stroke="#111" stroke-width="1.5"/><text class="n" transform="translate(388.2 483) scale(0.955 1)" text-anchor="end">-20</text><line x1="392" y1="496.2" x2="395" y2="496.2" stroke="#111" stroke-width="1.5"/><line x1="389" y1="514.4" x2="395" y2="514.4" stroke="#111" stroke-width="1.5"/><text class="n" transform="translate(388.2 519.2) scale(0.955 1)" text-anchor="end">-10</text><line x1="392" y1="532.5" x2="395" y2="532.5" stroke="#111" stroke-width="1.5"/><line x1="389" y1="550.7" x2="395" y2="550.7" stroke="#111" stroke-width="1.5"/><text class="n" transform="translate(388.2 555.6) scale(0.955 1)" text-anchor="end">0</text><line x1="395.5" y1="308.5" x2="422.5" y2="308.5" stroke="#0000ff" stroke-width="2"/><rect x="406.5" y="306" width="5" height="5" fill="#0000ff"/><text class="lg" x="425" y="312.3">Measured</text><line x1="395.5" y1="322.6" x2="422.5" y2="322.6" stroke="#f03030" stroke-width="2"/><circle cx="409" cy="322.6" r="2.9" fill="#ff0000"/><text class="lg" x="425" y="326.4">Simulated</text><text class="pl" x="535.4" y="580.8" text-anchor="middle">(d)</text></g>
<line x1="348.5" y1="0" x2="348.5" y2="600" stroke="#777" stroke-width="1.2"/>
<line x1="0" y1="296.5" x2="685" y2="296.5" stroke="#333" stroke-width="1.2"/>
<line x1="0.5" y1="0" x2="0.5" y2="600" stroke="#777" stroke-width="1"/>
<line x1="0" y1="0.5" x2="685" y2="0.5" stroke="#808080" stroke-width="1"/>
<line x1="684.5" y1="0" x2="684.5" y2="600" stroke="#111" stroke-width="1"/>
<line x1="0" y1="599.5" x2="685" y2="599.5" stroke="#888" stroke-width="1"/>
</svg></body></html>
